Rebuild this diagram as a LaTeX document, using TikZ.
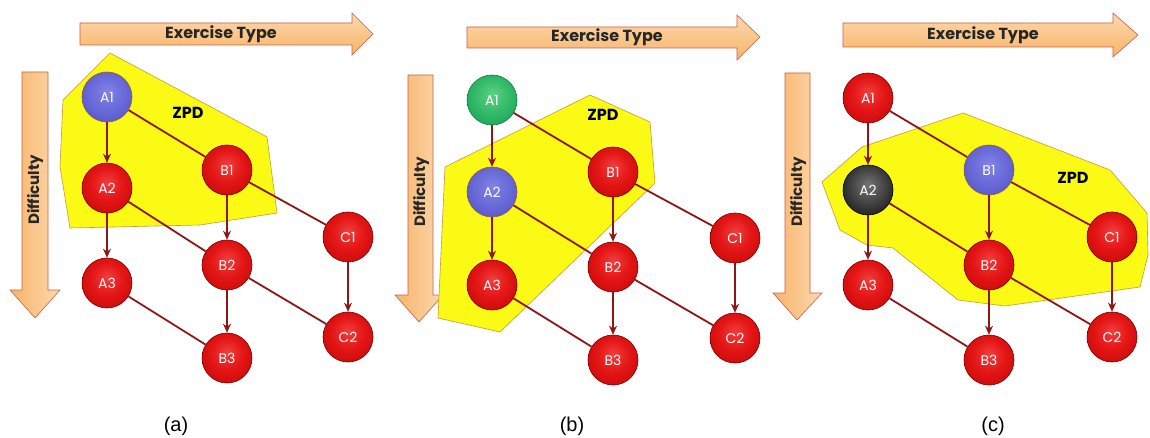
\documentclass[tikz,border=0pt]{standalone}
\usepackage{fontspec}
\setmainfont{Poppins}
\newfontfamily\capfont{Liberation Sans}
\usetikzlibrary{arrows.meta}

\definecolor{edgec}{HTML}{8E1616}
\definecolor{zpdfill}{HTML}{FAFA14}
\definecolor{zpddraw}{HTML}{C89A3C}
\definecolor{arrdark}{HTML}{F8B468}
\definecolor{arrlight}{HTML}{FCD8AE}
\definecolor{arrdraw}{HTML}{C8604A}
\definecolor{rA}{RGB}{242,62,62}
\definecolor{rB}{RGB}{228,22,22}
\definecolor{rC}{RGB}{198,6,6}
\definecolor{rD}{RGB}{150,0,0}
\definecolor{bA}{RGB}{130,130,230}
\definecolor{bB}{RGB}{95,95,210}
\definecolor{bC}{RGB}{65,65,175}
\definecolor{gA}{RGB}{90,210,130}
\definecolor{gB}{RGB}{35,175,95}
\definecolor{gC}{RGB}{15,125,65}
\definecolor{kA}{RGB}{115,115,115}
\definecolor{kB}{RGB}{45,45,45}
\definecolor{kC}{RGB}{10,10,10}
\definecolor{bdr}{RGB}{150,90,60}

\pgfdeclareradialshading{redsph}{\pgfpoint{0bp}{6bp}}{color(0bp)=(rA); color(16bp)=(rB); color(34bp)=(rC); color(48bp)=(rD); color(50bp)=(rD)}
\pgfdeclareradialshading{bluesph}{\pgfpoint{0bp}{6bp}}{color(0bp)=(bA); color(25bp)=(bB); color(48bp)=(bC); color(50bp)=(bC)}
\pgfdeclareradialshading{greensph}{\pgfpoint{0bp}{6bp}}{color(0bp)=(gA); color(25bp)=(gB); color(48bp)=(gC); color(50bp)=(gC)}
\pgfdeclareradialshading{blacksph}{\pgfpoint{0bp}{6bp}}{color(0bp)=(kA); color(25bp)=(kB); color(48bp)=(kC); color(50bp)=(kC)}

\tikzset{
  ball/.style={circle, minimum size=50pt, inner sep=0pt, text=white,
    font=\fontsize{14}{14}\selectfont, line width=0.6pt},
  redn/.style={ball, shading=redsph, draw=rD!80!black},
  bluen/.style={ball, shading=bluesph, draw=bdr},
  greenn/.style={ball, shading=greensph, draw=gC},
  blackn/.style={ball, shading=blacksph, draw=black},
  edge/.style={draw=edgec, line width=1.8pt},
  arr/.style={edge, -{Stealth[length=9pt,width=8pt]}},
  zpd/.style={fill=zpdfill, draw=zpddraw, line width=0.6pt},
  zpdl/.style={font=\fontsize{16}{16}\selectfont\bfseries},
  harrow/.style={draw=arrdraw, line width=0.6pt, top color=arrlight, bottom color=arrdark},
  varrow/.style={draw=arrdraw, line width=0.6pt, left color=arrdark, right color=arrlight},
  hdr/.style={font=\fontsize{16}{16}\selectfont\bfseries, text=black!85},
  vhdr/.style={font=\fontsize{15}{15}\selectfont\bfseries, text=black!85, rotate=90},
  caption/.style={font=\capfont\fontsize{20}{20}\selectfont}
}

\newcommand\gedges[1]{%
  \draw[arr] (#1A1) -- (#1A2);
  \draw[arr] (#1A2) -- (#1A3);
  \draw[arr] (#1B1) -- (#1B2);
  \draw[arr] (#1B2) -- (#1B3);
  \draw[arr] (#1C1) -- (#1C2);
  \draw[edge] (#1A1) -- (#1B1);
  \draw[edge] (#1A2) -- (#1B2);
  \draw[edge] (#1A3) -- (#1B3);
  \draw[edge] (#1B1) -- (#1C1);
  \draw[edge] (#1B2) -- (#1C2);
}

\begin{document}
\begin{tikzpicture}[x=1pt,y=-1pt]
\useasboundingbox[fill=white] (0,0) rectangle (1150,438);

% ---------- panel (a) ----------
\draw[harrow] (80,23) -- (352,23) -- (352,13) -- (373,34) -- (352,55) -- (352,45) -- (80,45) -- cycle;
\node[hdr] (aET) at (221,34) {Exercise Type};
\draw[varrow] (22,72) -- (48,72) -- (48,290) -- (60,290) -- (35,318) -- (10,290) -- (22,290) -- cycle;
\node[vhdr] (aDF) at (35,190) {Difficulty};
\draw[zpd] (63,100) -- (110,53) -- (267,137) -- (277,213) -- (200,225) -- (70,228) -- (60,167) -- cycle;
\node[zpdl] (aZ) at (188,113) {ZPD};
\node[bluen] (aA1) at (107,97) {A1};
\node[redn] (aA2) at (107,188) {A2};
\node[redn] (aA3) at (107,283) {A3};
\node[redn] (aB1) at (227,170) {B1};
\node[redn] (aB2) at (227,265) {B2};
\node[redn] (aB3) at (227,358) {B3};
\node[redn] (aC1) at (348,237) {C1};
\node[redn] (aC2) at (348,337) {C2};
\gedges{a}
\node[caption] (capa) at (176,426) {(a)};

% ---------- panel (b) ----------
\draw[harrow] (467,27) -- (737,27) -- (737,15) -- (760,37) -- (737,60) -- (737,48) -- (467,48) -- cycle;
\node[hdr] (bET) at (607,37) {Exercise Type};
\draw[varrow] (408,75) -- (433,75) -- (433,295) -- (443,295) -- (419,322) -- (395,295) -- (408,295) -- cycle;
\node[vhdr] (bDF) at (421,192) {Difficulty};
\draw[zpd] (590,95) -- (650,122) -- (655,183) -- (500,332) -- (438,318) -- (445,167) -- cycle;
\node[zpdl] (bZ) at (603,115) {ZPD};
\node[greenn] (bA1) at (492,100) {A1};
\node[bluen] (bA2) at (492,192) {A2};
\node[redn] (bA3) at (492,285) {A3};
\node[redn] (bB1) at (613,172) {B1};
\node[redn] (bB2) at (613,267) {B2};
\node[redn] (bB3) at (613,360) {B3};
\node[redn] (bC1) at (735,238) {C1};
\node[redn] (bC2) at (735,338) {C2};
\gedges{b}
\node[caption] (capb) at (572,426) {(b)};

% ---------- panel (c) ----------
\draw[harrow] (843,23) -- (1113,23) -- (1113,13) -- (1138,35) -- (1113,57) -- (1113,47) -- (843,47) -- cycle;
\node[hdr] (cET) at (983,35) {Exercise Type};
\draw[varrow] (785,73) -- (810,73) -- (810,293) -- (822,293) -- (797,320) -- (773,293) -- (785,293) -- cycle;
\node[vhdr] (cDF) at (798,192) {Difficulty};
\draw[zpd] (822,182) -- (862,147) -- (963,113) -- (1110,170) -- (1147,213) -- (1148,255) -- (1140,287) -- (1005,306) -- (958,300) -- (893,248) -- (867,245) -- (840,230) -- cycle;
\node[zpdl] (cZ) at (1073,178) {ZPD};
\node[redn] (cA1) at (868,98) {A1};
\node[blackn] (cA2) at (868,190) {A2};
\node[redn] (cA3) at (868,285) {A3};
\node[bluen] (cB1) at (989,170) {B1};
\node[redn] (cB2) at (989,265) {B2};
\node[redn] (cB3) at (989,360) {B3};
\node[redn] (cC1) at (1112,237) {C1};
\node[redn] (cC2) at (1112,337) {C2};
\gedges{c}
\node[caption] (capc) at (993,426) {(c)};
\end{tikzpicture}
\end{document}
